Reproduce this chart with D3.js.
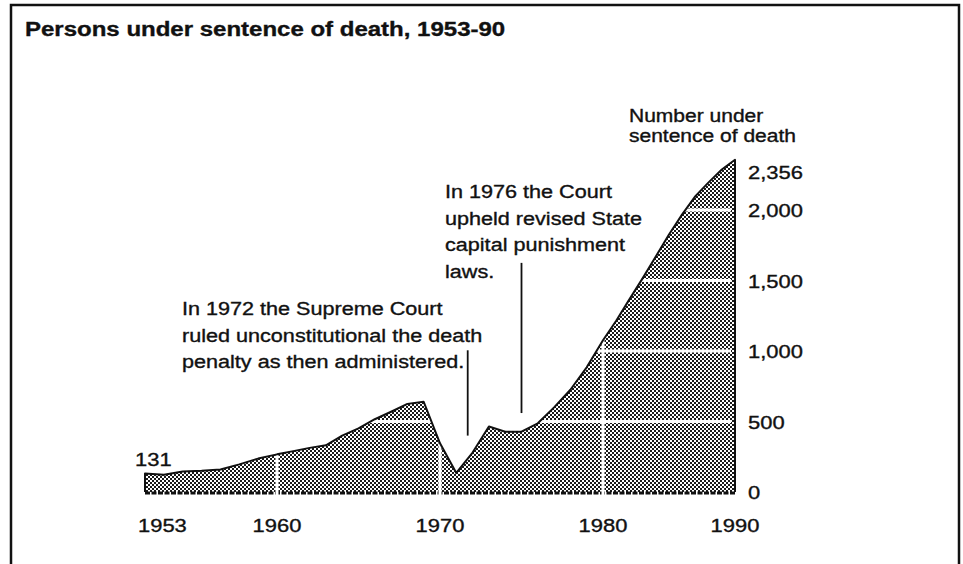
<!DOCTYPE html>
<html>
<head>
<meta charset="utf-8">
<script src="https://cdn.jsdelivr.net/npm/d3@7"></script>
<style>
  body { margin: 0; background: #fff; }
  svg { display: block; }
  text { font-family: "Liberation Sans", Arial, Helvetica, sans-serif; fill: #111; stroke: #111; stroke-width: 0.35px; }
</style>
</head>
<body>
<svg id="chart" width="963" height="564"></svg>
<script>
// Values, one per year 1953-1990
const years = d3.range(1953, 1991);
const sentenced = [131, 122, 146, 151, 160, 196, 237, 267, 290, 313, 331, 400, 451, 516, 569, 625,
                   640, 345, 135, 280, 465, 427, 428, 487, 600, 725, 884, 1076, 1215, 1366, 1515,
                   1670, 1826, 1969, 2098, 2196, 2287, 2356];

const xTicks = [1953, 1960, 1970, 1980, 1990];
const yTicks = [0, 500, 1000, 1500, 2000];
const yTickLabels = ['0', '500', '1,000', '1,500', '2,000'];
const startLabel = '131';
const endLabel = '2,356';

// Callout lines: where they sit on the year axis and how far they run (in persons)
const calloutYears = [1971.7, 1975];
const calloutSpans = [[400, 1005], [560, 1625]];
const calloutText = [
  ['In 1972 the Supreme Court', 'ruled unconstitutional the death', 'penalty as then administered.'],
  ['In 1976 the Court', 'upheld revised State', 'capital punishment', 'laws.']
];

const K = 1.2; // the print type is wider than Arial
const svg = d3.select('#chart');

// stretch text horizontally a bit
function widen(sel) {
  sel.each(function () {
    const len = this.getComputedTextLength();
    d3.select(this).attr('textLength', len * K).attr('lengthAdjust', 'spacingAndGlyphs');
  });
}

// the tick labels are not evenly spaced in the print, so the scale is piecewise
const x = d3.scaleLinear().domain(xTicks).range([145, 277, 440, 603, 735]);
const y = d3.scaleLinear().domain([0, 2000]).range([492, 210]);

// frame
svg.append('path')
  .attr('d', 'M11,564V5H959V564')
  .attr('fill', 'none')
  .attr('stroke', '#111')
  .attr('stroke-width', 2.5);

// title
svg.append('text')
  .attr('x', 25).attr('y', 36)
  .attr('font-size', 20).attr('font-weight', 'bold')
  .text('Persons under sentence of death, 1953-90')
  .call(widen);

// halftone fill
const defs = svg.append('defs');
const pat = defs.append('pattern')
  .attr('id', 'dots')
  .attr('width', 4).attr('height', 4)
  .attr('patternUnits', 'userSpaceOnUse');
pat.append('rect').attr('width', 4).attr('height', 4).attr('fill', '#fff');
pat.append('rect').attr('width', 2).attr('height', 2).attr('fill', '#1a1a1a');
pat.append('rect').attr('x', 2).attr('y', 2).attr('width', 2).attr('height', 2).attr('fill', '#1a1a1a');

const area = d3.area()
  .x((d, i) => x(years[i]))
  .y0(y(0))
  .y1(d => y(d));

const clipArea = d3.area()
  .x((d, i) => x(years[i]))
  .y0(y(0) + 5)
  .y1(d => y(d));

defs.append('clipPath').attr('id', 'fillClip')
  .append('path').attr('d', clipArea(sentenced));

svg.append('path')
  .attr('d', area(sentenced))
  .attr('fill', 'url(#dots)');

// jagged bottom edge
svg.append('line')
  .attr('x1', x(1953)).attr('x2', x(1990))
  .attr('y1', y(0) + 1).attr('y2', y(0) + 1)
  .attr('stroke', '#111')
  .attr('stroke-width', 3)
  .attr('stroke-dasharray', '5,1.5');

// white grid lines inside the fill
const grid = svg.append('g').attr('clip-path', 'url(#fillClip)');
grid.selectAll('line.h')
  .data(yTicks.slice(1))
  .join('line')
  .attr('class', 'h')
  .attr('x1', x(1953)).attr('x2', x(1990) - 4)
  .attr('y1', d => y(d)).attr('y2', d => y(d))
  .attr('stroke', '#fff')
  .attr('stroke-width', 3);

grid.selectAll('line.v')
  .data(xTicks.slice(1, -1))
  .join('line')
  .attr('class', 'v')
  .attr('x1', d => x(d)).attr('x2', d => x(d))
  .attr('y1', y(2356)).attr('y2', y(0) + 5)
  .attr('stroke', '#fff')
  .attr('stroke-width', 3);

// outline: left edge, top line, right edge
const outlinePts = [[years[0], 0]]
  .concat(years.map((yr, i) => [yr, sentenced[i]]))
  .concat([[years[years.length - 1], 0]]);

svg.append('path')
  .attr('d', d3.line().x(d => x(d[0])).y(d => y(d[1]))(outlinePts))
  .attr('fill', 'none')
  .attr('stroke', '#111')
  .attr('stroke-width', 2)
  .attr('stroke-linejoin', 'round');

// year labels
svg.selectAll('text.xl')
  .data(xTicks)
  .join('text')
  .attr('class', 'xl')
  .attr('x', (d, i) => i === 0 ? x(d) - 7 : x(d))
  .attr('y', 532)
  .attr('text-anchor', (d, i) => i === 0 ? 'start' : 'middle')
  .attr('font-size', 18.3)
  .text(d => d)
  .call(widen);

// value labels on the right
svg.selectAll('text.yl')
  .data(yTicks)
  .join('text')
  .attr('class', 'yl')
  .attr('x', 748)
  .attr('y', d => y(d) + 7)
  .attr('font-size', 18.3)
  .text((d, i) => yTickLabels[i])
  .call(widen);

svg.append('text')
  .attr('x', 748).attr('y', y(2356) + 19)
  .attr('font-size', 18.3)
  .text(endLabel)
  .call(widen);

svg.append('text')
  .attr('x', x(1953) - 10).attr('y', y(131) - 8)
  .attr('font-size', 18.3)
  .text(startLabel)
  .call(widen);

// axis title, two lines
svg.selectAll('text.ytitle')
  .data(['Number under', 'sentence of death'])
  .join('text')
  .attr('class', 'ytitle')
  .attr('x', 629)
  .attr('y', (d, i) => 122 + i * 20)
  .attr('font-size', 17.5)
  .text(d => d)
  .call(widen);

// callouts
svg.selectAll('line.callout')
  .data(calloutYears)
  .join('line')
  .attr('class', 'callout')
  .attr('x1', d => x(d)).attr('x2', d => x(d))
  .attr('y1', (d, i) => y(calloutSpans[i][1]))
  .attr('y2', (d, i) => y(calloutSpans[i][0]))
  .attr('stroke', '#111')
  .attr('stroke-width', 1.8);

const noteAt = [{ x: 182, y: 315 }, { x: 445, y: 198 }];
calloutText.forEach((lines, i) => {
  svg.selectAll(null)
    .data(lines)
    .join('text')
    .attr('x', noteAt[i].x)
    .attr('y', (d, j) => noteAt[i].y + j * 26.6)
    .attr('font-size', 18)
    .text(d => d)
    .call(widen);
});
</script>
</body>
</html>
